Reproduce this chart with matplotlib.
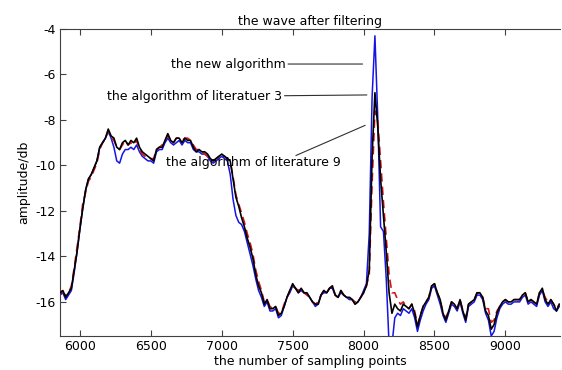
import numpy as np
import matplotlib
matplotlib.use("Agg")
import matplotlib.pyplot as plt

# samples every 20 points, starting at 5860
x_start = 5860
x_step = 20

# the algorithm of literature 9 (black)
lit9 = [
    -15.6, -15.5, -15.8, -15.6, -15.4, -14.6, -13.8, -12.8, -11.9, -11.1,
    -10.6, -10.4, -10.1, -9.8, -9.2, -9.0, -8.8, -8.4, -8.7, -8.8,
    -9.2, -9.3, -9.0, -8.9, -9.1, -8.9, -9.0, -8.8, -9.2, -9.4,
    -9.5, -9.6, -9.7, -9.8, -9.3, -9.2, -9.2, -8.9, -8.6, -8.9,
    -9.0, -8.8, -8.8, -9.0, -8.8, -8.9, -8.9, -9.2, -9.4, -9.3,
    -9.4, -9.4, -9.5, -9.7, -9.8, -9.7, -9.6, -9.5, -9.6, -9.7,
    -9.8, -10.6, -11.4, -11.8, -12.3, -12.7, -13.2, -13.6, -14.1, -14.8,
    -15.3, -15.6, -16.1, -15.9, -16.3, -16.3, -16.2, -16.6, -16.5, -16.2,
    -15.8, -15.5, -15.2, -15.4, -15.6, -15.4, -15.6, -15.6, -15.8, -16.0,
    -16.1, -16.1, -15.7, -15.5, -15.6, -15.4, -15.3, -15.7, -15.8, -15.5,
    -15.7, -15.8, -15.8, -15.9, -16.1, -16.0, -15.8, -15.6, -15.3, -14.6,
    -9.6, -6.8, -8.3, -10.6, -12.2, -13.8, -15.6, -16.5, -16.1, -16.3,
    -16.4, -16.1, -16.2, -16.3, -16.1, -16.5, -17.1, -16.6, -16.2, -16.0,
    -15.8, -15.3, -15.2, -15.6, -15.9, -16.5, -16.8, -16.4, -16.0, -16.1,
    -16.3, -15.9, -16.4, -16.8, -16.1, -16.0, -15.9, -15.6, -15.6, -15.8,
    -16.4, -16.6, -17.2, -17.0, -16.5, -16.2, -16.0, -15.9, -16.0, -16.0,
    -15.9, -15.9, -15.9, -15.7, -15.6, -16.0, -15.9, -16.0, -16.1, -15.6,
    -15.4, -15.9, -16.1, -15.9, -16.1, -16.4, -16.1,
]

# the algorithm of literatuer 3 (red dashed)
lit3 = [
    -15.5, -15.6, -15.7, -15.6, -15.3, -14.5, -13.6, -12.7, -11.7, -11.2,
    -10.7, -10.5, -10.2, -9.9, -9.3, -9.0, -8.8, -8.5, -8.8, -8.9,
    -9.2, -9.3, -9.1, -8.9, -9.1, -9.0, -9.1, -8.9, -9.3, -9.5,
    -9.6, -9.7, -9.7, -9.7, -9.3, -9.2, -9.1, -8.9, -8.7, -8.9,
    -9.0, -8.8, -8.8, -8.9, -8.8, -8.8, -8.9, -9.1, -9.3, -9.3,
    -9.4, -9.5, -9.6, -9.7, -9.8, -9.7, -9.6, -9.5, -9.6, -9.7,
    -9.8, -10.5, -11.3, -11.7, -12.1, -12.5, -13.0, -13.4, -13.9, -14.6,
    -15.1, -15.5, -16.0, -15.9, -16.2, -16.3, -16.2, -16.5, -16.5, -16.1,
    -15.8, -15.5, -15.3, -15.4, -15.5, -15.4, -15.6, -15.7, -15.8, -16.0,
    -16.1, -16.0, -15.7, -15.5, -15.6, -15.4, -15.3, -15.7, -15.8, -15.5,
    -15.7, -15.8, -15.8, -15.9, -16.0, -16.0, -15.8, -15.6, -15.3, -14.8,
    -10.8, -7.6, -8.0, -9.8, -11.6, -13.2, -14.8, -15.6, -15.6, -15.9,
    -16.1, -16.0, -16.2, -16.3, -16.1, -16.4, -17.0, -16.6, -16.2, -16.0,
    -15.8, -15.3, -15.2, -15.6, -15.9, -16.5, -16.7, -16.4, -16.0, -16.1,
    -16.3, -15.9, -16.4, -16.7, -16.1, -16.0, -15.9, -15.6, -15.6, -15.8,
    -16.3, -16.3, -16.9, -16.8, -16.4, -16.2, -16.0, -15.9, -16.0, -16.0,
    -15.9, -15.9, -15.9, -15.7, -15.6, -16.0, -15.9, -16.0, -16.1, -15.6,
    -15.5, -15.8, -16.0, -15.9, -16.1, -16.3, -16.1,
]

# the new algorithm (blue)
new_alg = [
    -15.7, -15.6, -15.9, -15.7, -15.5, -14.7, -13.8, -12.8, -11.9, -11.1,
    -10.6, -10.4, -10.1, -9.8, -9.2, -9.0, -8.8, -8.5, -8.8, -9.2,
    -9.8, -9.9, -9.5, -9.3, -9.3, -9.2, -9.3, -9.1, -9.4, -9.6,
    -9.7, -9.8, -9.8, -9.9, -9.4, -9.3, -9.3, -9.0, -8.8, -9.0,
    -9.1, -9.0, -8.9, -9.1, -8.9, -9.0, -9.0, -9.3, -9.4, -9.4,
    -9.5, -9.5, -9.6, -9.8, -9.9, -9.8, -9.7, -9.6, -9.7, -9.8,
    -10.4, -11.5, -12.2, -12.5, -12.6, -12.9, -13.4, -13.9, -14.4, -15.0,
    -15.5, -15.8, -16.2, -16.0, -16.4, -16.4, -16.3, -16.7, -16.6, -16.2,
    -15.8, -15.6, -15.3, -15.4, -15.6, -15.5, -15.6, -15.6, -15.8, -16.0,
    -16.2, -16.1, -15.7, -15.6, -15.6, -15.4, -15.4, -15.7, -15.8, -15.6,
    -15.7, -15.8, -15.9, -15.9, -16.1, -16.0, -15.8, -15.5, -15.2, -13.0,
    -7.0, -4.3, -7.9, -12.7, -12.9, -15.0, -17.9, -17.9, -16.7, -16.5,
    -16.6, -16.3, -16.4, -16.5, -16.3, -16.7, -17.3, -16.8, -16.4, -16.1,
    -15.9, -15.4, -15.3, -15.7, -16.1, -16.6, -16.9, -16.5, -16.1, -16.2,
    -16.4, -16.0, -16.5, -16.9, -16.2, -16.1, -16.0, -15.7, -15.7, -15.9,
    -16.5, -16.8, -17.5, -17.3, -16.7, -16.3, -16.1, -16.0, -16.1, -16.1,
    -16.0, -16.0, -16.0, -15.8, -15.7, -16.1, -16.0, -16.1, -16.2, -15.7,
    -15.5, -16.0, -16.2, -16.0, -16.3, -16.4, -16.2,
]

x = x_start + x_step * np.arange(len(lit9))

plt.rcParams['font.family'] = 'DejaVu Sans'
plt.rcParams['font.size'] = 9
plt.rcParams['axes.unicode_minus'] = False

fig = plt.figure(figsize=(5.62, 3.70), dpi=100)
ax = fig.add_axes([0.1068, 0.0919, 0.8897, 0.8297])

ax.plot(x, new_alg, color='#1414e6', lw=1.1, zorder=2)
ax.plot(x, lit3, color='#d01818', lw=1.2, ls='--', dashes=(5, 3), zorder=3)
ax.plot(x, lit9, color='black', lw=1.2, zorder=4)

# annotations
line_kw = dict(arrowstyle='-', color='#303030', lw=0.8, shrinkA=0, shrinkB=0)
ax.annotate('the new algorithm', xy=(7993, -5.54), xytext=(7448, -5.54),
            ha='right', va='center', arrowprops=line_kw)
ax.annotate('the algorithm of literatuer 3', xy=(8023, -6.9), xytext=(7423, -6.97),
            ha='right', va='center', arrowprops=line_kw)
ax.plot([7524, 8010], [-9.56, -8.24], color='#303030', lw=0.8)
ax.text(6608, -9.88, 'the algorithm of literature 9', ha='left', va='center')

ax.set_xlim(5860, 9385)
ax.set_ylim(-17.5, -4)
ax.set_xticks([6000, 6500, 7000, 7500, 8000, 8500, 9000])
ax.set_yticks([-4, -6, -8, -10, -12, -14, -16])

ax.set_title('the wave after filtering', fontsize=9, pad=3)
ax.set_xlabel('the number of sampling points', labelpad=1)
ax.set_ylabel('amplitude/db', labelpad=4)

for side in ['left', 'bottom', 'top']:
    ax.spines[side].set_color('#404040')
ax.spines['right'].set_visible(False)
ax.tick_params(direction='in', length=4, top=True, right=False,
               color='#404040', pad=3)

fig.savefig('out.png', dpi=100)
